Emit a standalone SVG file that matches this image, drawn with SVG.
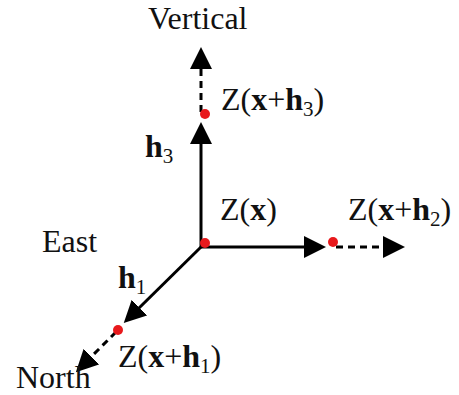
<svg xmlns="http://www.w3.org/2000/svg" width="459" height="395" viewBox="0 0 459 395">
<defs>
<marker id="ah" markerUnits="userSpaceOnUse" markerWidth="24" markerHeight="24" refX="2" refY="11" orient="auto">
<path d="M0,0 L22,11 L0,22 Z" fill="#000"/>
</marker>
<style>
.ax{stroke:#000;stroke-width:3;fill:none}
.dash{stroke-dasharray:7 5}
.dot{fill:#e8191c}
text{font-family:"Liberation Serif","Times New Roman",serif;font-size:32px;fill:#111}
.b{font-weight:bold}
.sub{font-size:21px}
</style>
</defs>
<rect width="459" height="395" fill="#fff"/>
<g id="connectors">
<line class="ax" x1="201" y1="247" x2="201" y2="142" marker-end="url(#ah)"/>
<line class="ax dash" x1="201" y1="112" x2="201" y2="67" marker-end="url(#ah)"/>
<line class="ax" x1="201" y1="247" x2="306" y2="247" marker-end="url(#ah)"/>
<line class="ax dash" x1="336" y1="247" x2="385" y2="247" marker-end="url(#ah)"/>
<line class="ax" x1="201" y1="247" x2="138" y2="309" marker-end="url(#ah)"/>
<line class="ax dash" x1="116" y1="332" x2="90" y2="358" marker-end="url(#ah)"/>
</g>
<g id="origin">
<circle class="dot" cx="205" cy="243" r="5"/>
<text x="220" y="220">Z(<tspan class="b">x</tspan>)</text>
</g>
<g id="vertical-point">
<circle class="dot" cx="205" cy="114" r="5"/>
<text x="221" y="110">Z(<tspan class="b">x</tspan>+<tspan class="b">h</tspan><tspan class="sub" dy="6">3</tspan><tspan dy="-6">)</tspan></text>
</g>
<g id="east-point">
<circle class="dot" cx="333" cy="242" r="5"/>
<text x="348" y="220">Z(<tspan class="b">x</tspan>+<tspan class="b">h</tspan><tspan class="sub" dy="6">2</tspan><tspan dy="-6">)</tspan></text>
</g>
<g id="north-point">
<circle class="dot" cx="118" cy="330" r="5"/>
<text x="118" y="367">Z(<tspan class="b">x</tspan>+<tspan class="b">h</tspan><tspan class="sub" dy="6">1</tspan><tspan dy="-6">)</tspan></text>
</g>
<g id="labels">
<text x="148" y="29">Vertical</text>
<text x="42" y="252">East</text>
<text x="16" y="388">North</text>
<text x="145" y="157"><tspan class="b">h</tspan><tspan class="sub" dy="6">3</tspan></text>
<text x="118" y="288"><tspan class="b">h</tspan><tspan class="sub" dy="6">1</tspan></text>
</g>
</svg>
